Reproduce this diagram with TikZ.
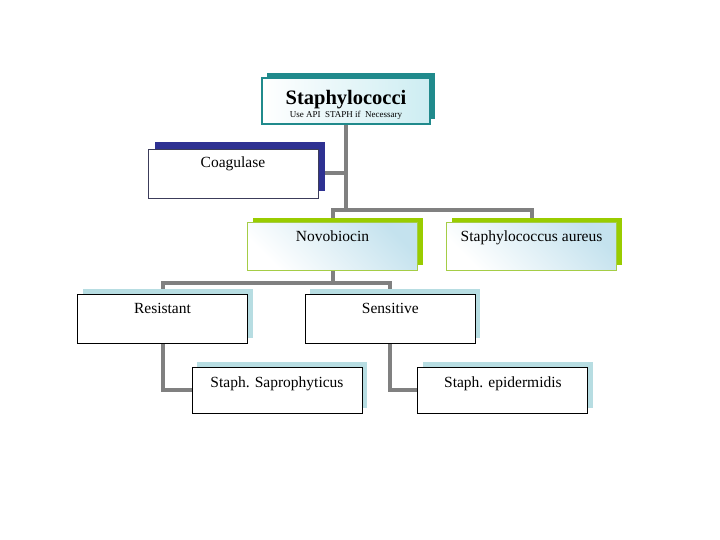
\documentclass[tikz,border=0pt]{standalone}
\usepackage{fontspec}
\setmainfont{Liberation Serif}
\usetikzlibrary{positioning, shadows, backgrounds}

\definecolor{rootteal}{RGB}{32,138,140}
\definecolor{rootfill}{RGB}{205,237,242}
\definecolor{coagnavy}{RGB}{46,49,146}
\definecolor{coagline}{RGB}{60,60,90}
\definecolor{novogreen}{RGB}{153,204,0}
\definecolor{novoline}{RGB}{165,205,70}
\definecolor{novofill}{RGB}{196,226,238}
\definecolor{leafshadow}{RGB}{183,221,226}
\definecolor{conngray}{RGB}{128,128,128}

\begin{document}
\begin{tikzpicture}[
    x=1pt, y=-1pt,
    font=\fontsize{15.5}{18}\selectfont,
    box/.style={
        draw,
        inner sep=0pt,
        minimum width=170pt
    },
    rootbox/.style={
        box,
        align=center,
        draw=rootteal,
        line width=1.2pt,
        minimum width=168pt,
        minimum height=46pt,
        left color=white,
        right color=rootfill,
        drop shadow={shadow xshift=5pt, shadow yshift=5pt, fill=rootteal, opacity=1}
    },
    coagbox/.style={
        box,
        draw=coagline,
        line width=0.9pt,
        fill=white,
        text height=19pt,
        text depth=30pt,
        drop shadow={shadow xshift=7pt, shadow yshift=7pt, fill=coagnavy, opacity=1}
    },
    greenbox/.style={
        box,
        draw=novoline,
        line width=1pt,
        top color=novofill,
        bottom color=white,
        shading angle=-45,
        text height=18pt,
        text depth=29pt,
        drop shadow={shadow xshift=5pt, shadow yshift=5pt, fill=novogreen, opacity=1}
    },
    leafbox/.style={
        box,
        draw=black,
        line width=0.9pt,
        fill=white,
        drop shadow={shadow xshift=5pt, shadow yshift=5pt, fill=leafshadow, opacity=1}
    },
    conn/.style={draw=conngray, line width=4pt}
]
\useasboundingbox (0,0) rectangle (720,540);

\node[rootbox] (staph) at (346,101)
{\rule{0pt}{21pt}{\fontsize{20.5}{22}\selectfont\bfseries Staphylococci}\\[-5pt]
{\fontsize{9}{11}\selectfont Use API\ \ STAPH if\ \ Necessary}};

\node[coagbox] (coag) at (233,173.5) {Coagulase};

\node[greenbox] (novo) at (332.5,246.5) {Novobiocin};
\node[greenbox, right=28pt of novo] (aureus) {Staphylococcus aureus};

\node[leafbox, text height=19pt, text depth=30pt] (resist) at (162.5,318.5) {Resistant};
\node[leafbox, text height=19pt, text depth=30pt, right=57pt of resist] (sens) {Sensitive};

\node[leafbox, text height=20pt, text depth=26pt] (sapro) at (277,390) {Staph. Saprophyticus};
\node[leafbox, text height=20pt, text depth=26pt, right=55pt of sapro] (epi) {Staph. epidermidis};

\coordinate (trunk) at ([yshift=-85pt]staph.south);
\coordinate (split) at ([yshift=-12pt]novo.south);

\begin{scope}[on background layer]
\draw[conn] (staph.south) -- (trunk);
\draw[conn] (coag.east) -- (coag.east -| staph.south);
\draw[conn] (novo.north) |- (trunk) -| (aureus.north);
\draw[conn] (novo.south) -- (split);
\draw[conn] (resist.north) |- (split) -| (sens.north);
\draw[conn] (resist.south) |- (sapro.west);
\draw[conn] (sens.south) |- (epi.west);
\end{scope}

\end{tikzpicture}
\end{document}
